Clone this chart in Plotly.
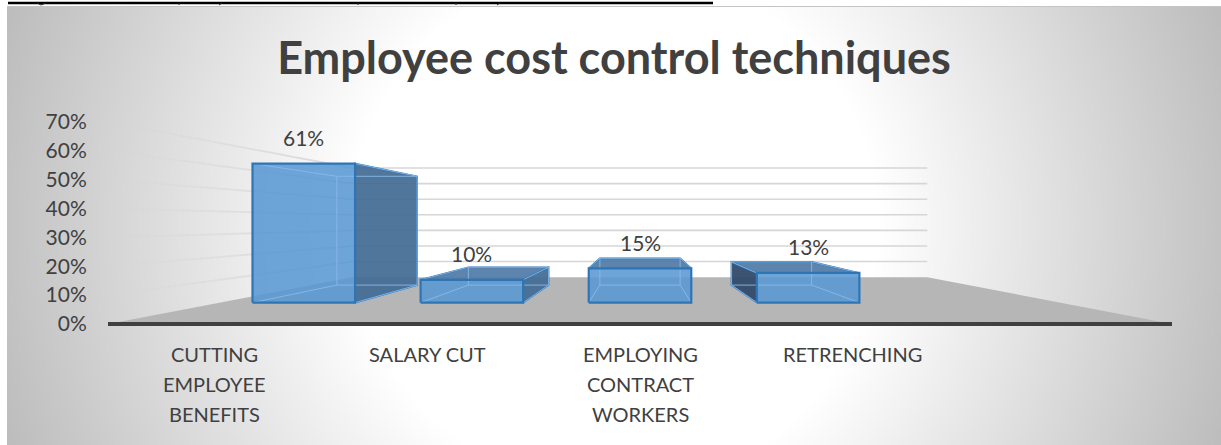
import numpy as np
import plotly.graph_objects as go

# Chart content
title_text = "Employee cost control techniques"
category_lines = [["CUTTING", "EMPLOYEE", "BENEFITS"], ["SALARY CUT"],
                  ["EMPLOYING", "CONTRACT", "WORKERS"], ["RETRENCHING"]]
values = [61, 10, 15, 13]
y_ticks = [0, 10, 20, 30, 40, 50, 60, 70]
y_tick_labels = ["0%", "10%", "20%", "30%", "40%", "50%", "60%", "70%"]

# Perspective set-up: a depth factor k shrinks points towards the vanishing point
CATEGORY_SLOTS = 5
VANISH_X = (CATEGORY_SLOTS - 1) / 2
VANISH_Y = 35.3
K_WALL = 0.54
K_BAR_FRONT = 0.79
K_BAR_BACK = 0.618
BAR_HALF = 0.305


def project(x, v, k):
    return VANISH_X + (x - VANISH_X) * k, VANISH_Y + (v - VANISH_Y) * k


TEXT = "#404040"
FONT = "Lato"
GRID = "214,214,214"
FLOOR = "#b6b6b6"
EDGE = "#2e75b6"
INNER = "rgba(135,185,232,0.9)"
FRONT = "rgba(90,152,212,0.88)"
TOP = "rgba(78,122,166,0.92)"
SIDE_RIGHT = "rgba(68,108,148,0.93)"
SIDE_LEFT = "rgba(50,75,105,0.95)"

# Pixel frame of the value axis; the range starts a little below zero so the
# thick category line along zero is not clipped
PX_PER_PERCENT = (324 - 122) / 70
Y_FLOOR_PAD = 2

fig = go.Figure()

# Page-wide backdrop: radial white-to-grey fill of the chart area
gx = np.linspace(9, 1219, 304)
gy = np.linspace(9, 443, 110)
xx, yy = np.meshgrid(gx, gy)
rr = np.hypot(xx - 614, yy - 226)
shade = np.clip((rr - 262) / (640 - 262), 0, 1)
fig.add_trace(go.Heatmap(x=gx, y=gy, z=shade, zmin=0, zmax=1, zsmooth="best", showscale=False,
                         colorscale=[[0, "#ffffff"], [1, "#bdbdbd"]], hoverinfo="skip",
                         xaxis="x", yaxis="y"))
# Rule and descender tips of the line of text just above the chart
fig.add_trace(go.Scatter(x=[8, 713], y=[3, 3], mode="lines", line=dict(color="#000000", width=2.5),
                         hoverinfo="skip", showlegend=False, xaxis="x", yaxis="y"))
fig.add_trace(go.Scatter(x=[7, 1221], y=[6.5, 6.5], mode="lines", line=dict(color="#c4c4c4", width=1),
                         hoverinfo="skip", showlegend=False, xaxis="x", yaxis="y"))
fig.add_trace(go.Scatter(x=[37, 41, 46, None, 179, 179, None, 219, 222, None, 358, 358, None, 456, 456, None, 497, 500],
                         y=[3, 5, 3, None, 3, 5, None, 5, 3, None, 3, 5, None, 3, 5, None, 5, 3],
                         mode="lines", line=dict(color="#222222", width=1), hoverinfo="skip",
                         showlegend=False, xaxis="x", yaxis="y"))


def poly(xs, ys, fill=None, line=None, width=1.0, closed=True):
    if closed:
        xs, ys = list(xs) + [xs[0]], list(ys) + [ys[0]]
    fig.add_trace(go.Scatter(x=xs, y=ys, mode="lines" if line else "none",
                             fill="toself" if fill else None, fillcolor=fill,
                             line=dict(color=line or "rgba(0,0,0,0)", width=width),
                             cliponaxis=False, hoverinfo="skip", showlegend=False,
                             xaxis="x2", yaxis="y2"))


x_lo, x_hi = -0.5, CATEGORY_SLOTS - 0.5

# Floor
corners = [project(x_lo, 0, 1), project(x_hi, 0, 1), project(x_hi, 0, K_WALL), project(x_lo, 0, K_WALL)]
poly([c[0] for c in corners], [c[1] for c in corners], fill=FLOOR)

# Category axis line along the front of the floor
poly([x_lo, x_hi], [0, 0], line="#404040", width=4, closed=False)

# Back wall gridlines
for tick in y_ticks[1:]:
    a, b = project(x_lo, tick, K_WALL), project(x_hi, tick, K_WALL)
    poly([a[0], b[0]], [a[1], b[1]], line=f"rgb({GRID})", width=1.6, closed=False)

# Side wall gridlines, fading out towards the viewer
ramp = np.linspace(0.97, K_WALL, 13)
for n in range(len(ramp) - 1):
    opacity = 0.2 + 0.8 * n / (len(ramp) - 2)
    xs, ys = [], []
    for tick in y_ticks[1:]:
        a, b = project(x_lo, tick, ramp[n]), project(x_lo, tick, ramp[n + 1])
        xs += [a[0], b[0], None]
        ys += [a[1], b[1], None]
    poly(xs, ys, line=f"rgba({GRID},{opacity:.2f})", width=1.8, closed=False)

# Glass-like bars
for i, value in enumerate(values):
    left, right = i - BAR_HALF, i + BAR_HALF
    fbl, fbr = project(left, 0, K_BAR_FRONT), project(right, 0, K_BAR_FRONT)
    ftl, ftr = project(left, value, K_BAR_FRONT), project(right, value, K_BAR_FRONT)
    bbl, bbr = project(left, 0, K_BAR_BACK), project(right, 0, K_BAR_BACK)
    btl, btr = project(left, value, K_BAR_BACK), project(right, value, K_BAR_BACK)

    if i < VANISH_X:
        side = [fbr, ftr, btr, bbr]
        poly([p[0] for p in side], [p[1] for p in side], fill=SIDE_RIGHT, line=EDGE, width=1.6)
    elif i > VANISH_X:
        side = [fbl, ftl, btl, bbl]
        poly([p[0] for p in side], [p[1] for p in side], fill=SIDE_LEFT, line=EDGE, width=1.6)
    if value < VANISH_Y:
        top = [ftl, ftr, btr, btl]
        poly([p[0] for p in top], [p[1] for p in top], fill=TOP, line=EDGE, width=1.6)

    face = [fbl, fbr, ftr, ftl]
    poly([p[0] for p in face], [p[1] for p in face], fill=FRONT)

    # Far edges seen through the front face
    inner = [(bbl, bbr), (bbr, btr), (btr, btl), (btl, bbl), (fbl, bbl), (fbr, bbr), (ftl, btl), (ftr, btr)]
    xs, ys = [], []
    for a, b in inner:
        xs += [a[0], b[0], None]
        ys += [a[1], b[1], None]
    poly(xs, ys, line=INNER, width=1.0, closed=False)

    poly([p[0] for p in face], [p[1] for p in face], line=EDGE, width=2.2)

annotations = []
# Value labels above each front face
for i, value in enumerate(values):
    lx, ly = project(i, value, K_BAR_FRONT)
    annotations.append(dict(x=lx, y=ly, xref="x2", yref="y2", yshift=26, text=f"{value}%",
                            showarrow=False, xanchor="center", yanchor="middle",
                            font=dict(family=FONT, size=21, color=TEXT)))
# Category labels, one annotation per line for the wide line pitch
for i, lines in enumerate(category_lines):
    for row, line in enumerate(lines):
        annotations.append(dict(x=i, y=0, xref="x2", yref="y2", yshift=-30 - 30 * row, text=line,
                                showarrow=False, xanchor="center", yanchor="middle",
                                font=dict(family=FONT, size=20, color=TEXT)))

fig.update_layout(
    width=1221, height=445, margin=dict(l=0, r=0, t=0, b=0, autoexpand=False), autosize=False,
    paper_bgcolor="#ffffff", plot_bgcolor="rgba(0,0,0,0)", showlegend=False,
    title=dict(text=title_text, x=614 / 1221, xref="paper", xanchor="center",
               y=1 - 58 / 445, yref="paper", yanchor="middle",
               font=dict(family=FONT, size=45, color=TEXT, weight="bold")),
    xaxis=dict(domain=[0, 1], range=[0, 1221], visible=False, fixedrange=True),
    yaxis=dict(domain=[0, 1], range=[445, 0], visible=False, fixedrange=True),
    xaxis2=dict(domain=[108 / 1221, 1172 / 1221], range=[x_lo, x_hi], anchor="y2",
                showgrid=False, zeroline=False, showticklabels=False, ticks="",
                showline=False, fixedrange=True),
    yaxis2=dict(domain=[(445 - 324 - Y_FLOOR_PAD * PX_PER_PERCENT) / 445, (445 - 122) / 445],
                range=[-Y_FLOOR_PAD, 70], anchor="x2",
                tickmode="array", tickvals=y_ticks, ticktext=y_tick_labels,
                showgrid=False, zeroline=False, showline=False,
                ticks="outside", ticklen=16, tickcolor="rgba(0,0,0,0)",
                tickfont=dict(family=FONT, size=21, color=TEXT), fixedrange=True),
    annotations=annotations,
)

fig.write_html("out.html")
